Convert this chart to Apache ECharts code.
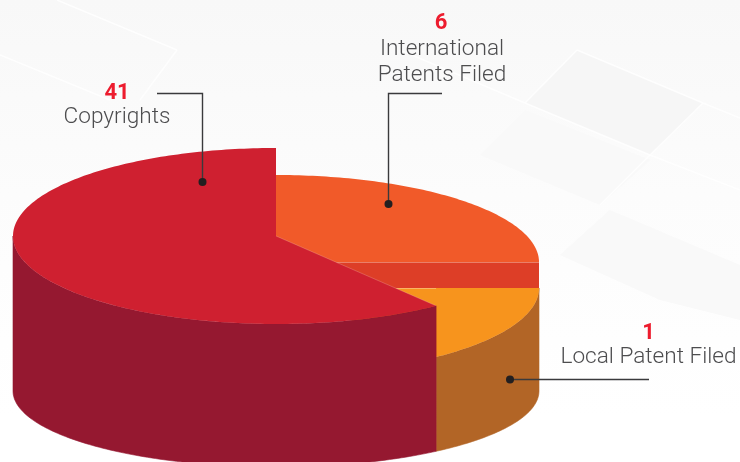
<!DOCTYPE html>
<html><head><meta charset="utf-8">
<style>html,body{margin:0;padding:0;background:#fff}#c{width:740px;height:462px}</style>
<script src="https://cdn.jsdelivr.net/npm/echarts@6/dist/echarts.min.js"></script>
</head><body><div id="c"></div>
<script>
// Data
var categories = ["International Patents Filed", "Local Patent Filed", "Copyrights"];
var labelLines = ["International\nPatents Filed", "Local Patent Filed", "Copyrights"];
var values = [6, 1, 41];
// The source graphic is not drawn to scale: these are the sweeps it shows
var shownDegrees = [90, 52.5, 217.5];

// Layout and style
var CX = 276, RX = 263, BASE_Y = 391, BASE_RY = 76;
var topY = [262, 288, 236];
var topRY = [87, 87, 88];
var topColors = ["#f15a29", "#f7941d", "#cf2030"];
var wallColors = ["#dd3e27", "#b26526", "#951830"];
var numberPos = [[441, 23.5], [648.5, 333], [117, 93]];
var namePos = [[442, 36.5], [648.5, 344], [117, 104]];
var leaders = [
  [[442, 93.5], [388.5, 93.5], [388.5, 204]],
  [[649, 379.5], [510, 379.5]],
  [[157, 93.5], [202.5, 93.5], [202.5, 182]]
];

function pt(deg, cy, ry) {
  var a = deg * Math.PI / 180;
  return [CX + RX * Math.sin(a), cy - ry * Math.cos(a)];
}
function arc(from, to, cy, ry) {
  var out = [], n = Math.max(2, Math.ceil(Math.abs(to - from)));
  for (var i = 0; i <= n; i++) out.push(pt(from + (to - from) * i / n, cy, ry));
  return out;
}
var start = 0;
var sliceData = categories.map(function (name, i) {
  var row = {name: name, value: [values[i], start, start + shownDegrees[i], i]};
  start += shownDegrees[i];
  return row;
});

function renderSlice(params, api) {
  var from = api.value(1), to = api.value(2), i = api.value(3);
  var cy = topY[i], ry = topRY[i], kids = [];
  // outer wall: only the front half (90..270 degrees) can be seen
  var wf = Math.max(from, 90), wt = Math.min(to, 270);
  if (wt > wf) {
    kids.push({type: 'polygon',
      shape: {points: arc(wf, wt, cy, ry).concat(arc(wt, wf, BASE_Y, BASE_RY))},
      style: {fill: wallColors[i], stroke: wallColors[i], lineWidth: 0.6}});
  }
  // cut face down to the next slice's top
  if (i + 1 < topY.length && topY[i + 1] > cy) {
    var rim = pt(to, cy, ry);
    kids.push({type: 'polygon',
      shape: {points: [[CX, cy], rim, [rim[0], topY[i + 1]], [CX, topY[i + 1]]]},
      style: {fill: wallColors[i]}});
  }
  kids.push({type: 'polygon',
    shape: {points: [[CX, cy]].concat(arc(from, to, cy, ry))},
    style: {fill: topColors[i]}});
  // thin highlight along the cut edges
  if (i + 1 < topY.length) {
    var r = pt(to, cy, ry);
    kids.push({type: 'line', shape: {x1: CX, y1: cy + 0.5, x2: r[0], y2: cy + 0.5},
      style: {stroke: 'rgba(255,225,205,0.4)', lineWidth: 1}});
  } else {
    var e = pt(from, cy, ry);
    kids.push({type: 'line', shape: {x1: CX, y1: cy, x2: e[0], y2: e[1]},
      style: {stroke: 'rgba(255,225,205,0.3)', lineWidth: 0.8}});
  }
  return {type: 'group', children: kids};
}

function renderLabel(params, api) {
  var i = api.value(1), p = numberPos[i], q = namePos[i], L = leaders[i], end = L[L.length - 1];
  return {type: 'group', children: [
    {type: 'polyline', shape: {points: L},
      style: {fill: null, stroke: '#3a3a3c', lineWidth: 1.4}},
    {type: 'circle', shape: {cx: end[0], cy: end[1], r: 4}, style: {fill: '#231f20'}},
    {type: 'text', x: p[0], y: p[1],
      style: {text: String(api.value(0)), fill: '#ed1c2e', align: 'center', verticalAlign: 'middle',
        font: '700 22px Roboto'}},
    {type: 'text', x: q[0], y: q[1],
      style: {text: labelLines[i], fill: '#4d4d4f', align: 'center', verticalAlign: 'top',
        font: '300 22.6px Roboto', lineHeight: 26}}
  ]};
}

function tile(pts, fill) {
  return {type: 'polygon', z: -9, silent: true, shape: {points: pts}, style: {fill: fill}};
}
function seam(a, b) {
  return {type: 'line', z: -8, silent: true, shape: {x1: a[0], y1: a[1], x2: b[0], y2: b[1]},
    style: {stroke: 'rgba(255,255,255,0.8)', lineWidth: 1.5}};
}
var chart = echarts.init(document.getElementById('c'), null, {renderer: 'canvas'});
chart.setOption({
  animation: false,
  graphic: [
    {type: 'rect', z: -10, shape: {x: 0, y: 0, width: 740, height: 462}, silent: true,
      style: {fill: new echarts.graphic.LinearGradient(0, 0, 0, 1, [
        {offset: 0, color: '#f8f8f8'}, {offset: 0.42, color: '#fcfcfc'}, {offset: 0.9, color: '#ffffff'}])}},
    tile([[577,50],[703,103],[650,155],[525,103]], '#f6f6f6'),
    tile([[525,110],[650,160],[600,205],[480,155]], '#f9f9f9'),
    tile([[610,210],[740,265],[740,320],[660,300],[560,255]], '#f9f9f9'),
    seam([57,0],[177,50]), seam([177,50],[140,100]), seam([0,55],[110,100]),
    seam([577,50],[703,103]), seam([703,103],[650,155]), seam([650,155],[525,103]), seam([525,103],[577,50]),
    seam([703,103],[740,118]), seam([650,155],[740,190]), seam([525,103],[400,50]), seam([600,205],[650,155])
  ],
  series: [
    {type: 'custom', coordinateSystem: 'none', z: 2, silent: true, renderItem: renderSlice, data: sliceData},
    {type: 'custom', coordinateSystem: 'none', z: 3, silent: true, renderItem: renderLabel,
      data: values.map(function (v, i) { return {name: categories[i], value: [v, i]}; })}
  ]
});
</script></body></html>
